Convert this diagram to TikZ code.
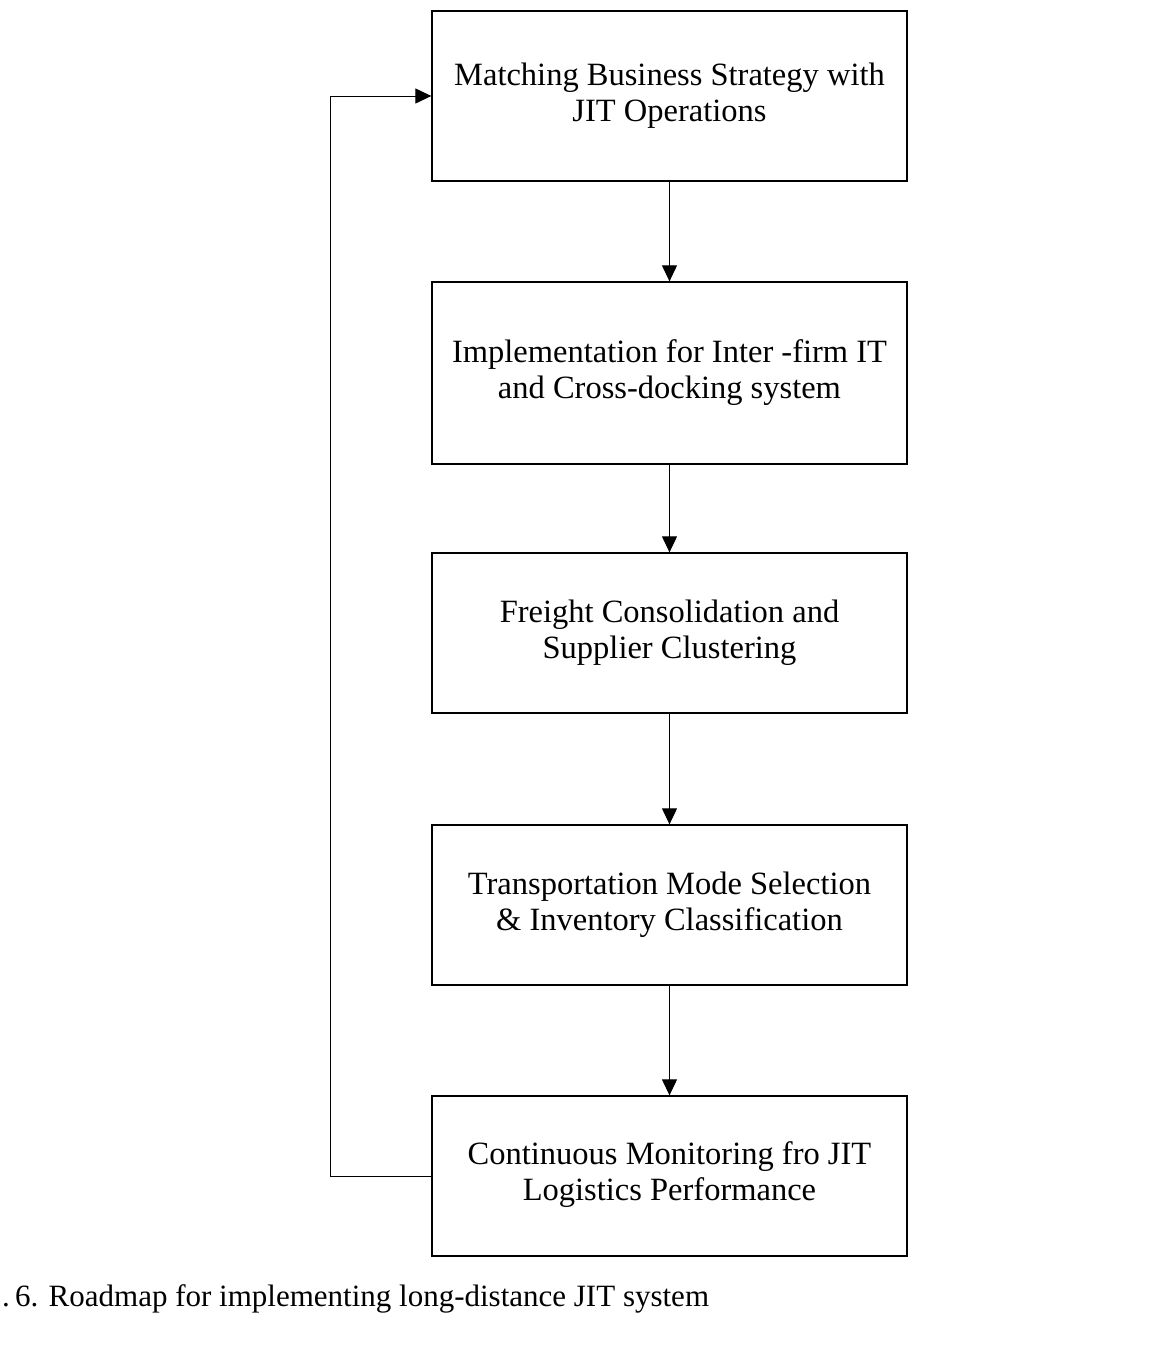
\documentclass[tikz,border=0pt]{standalone}
\usepackage{fontspec}
\setmainfont{Liberation Serif}
\usetikzlibrary{arrows.meta}
\tikzset{
  stepbox/.style={draw=black, line width=1.3pt, minimum width=475pt, inner sep=0pt,
    align=center, font=\fontsize{32.5}{36}\selectfont},
  flow/.style={draw=black, line width=1pt, -{Triangle[length=16pt,width=15pt]}},
  captiontext/.style={inner sep=0pt, anchor=base west, font=\fontsize{31}{36}\selectfont}
}
\begin{document}
\begin{tikzpicture}[x=1pt,y=-1pt]
\useasboundingbox (0,0) rectangle (1150,1371);
\node[stepbox, minimum height=170pt] (b1) at (669.5,96) {Matching Business Strategy with\\JIT Operations};
\node[stepbox, minimum height=182pt] (b2) at (669.5,373) {Implementation for Inter -firm IT\\and Cross-docking system};
\node[stepbox, minimum height=160pt] (b3) at (669.5,633) {Freight Consolidation and\\Supplier Clustering};
\node[stepbox, minimum height=160pt] (b4) at (669.5,905) {Transportation Mode Selection\\\& Inventory Classification};
\node[stepbox, minimum height=160pt, text depth=10pt] (b5) at (669.5,1176) {Continuous Monitoring fro JIT\\Logistics Performance};
\draw[flow] (b1) -- (b2);
\draw[flow] (b2) -- (b3);
\draw[flow] (b3) -- (b4);
\draw[flow] (b4) -- (b5);
\coordinate (fb) at (330,96);
\draw[flow] (b5.west) -| (fb) -- (b1.west);
\node[captiontext] (cap) at (2,1306) {.\,6. Roadmap for implementing long-distance JIT system};
\end{tikzpicture}
\end{document}
